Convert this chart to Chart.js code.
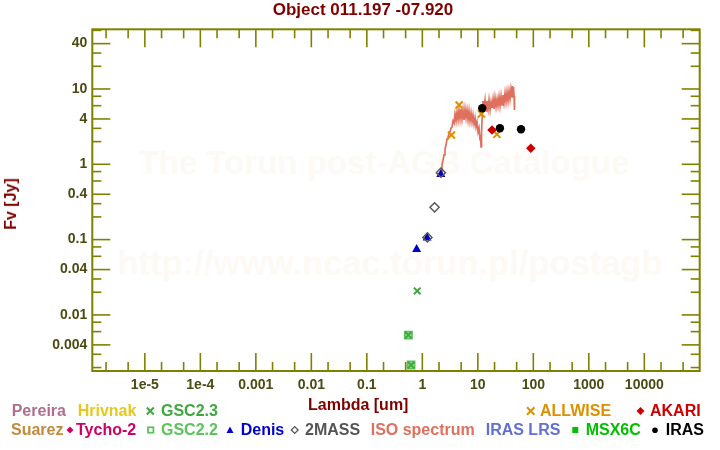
<!DOCTYPE html>
<html><head><meta charset="utf-8">
<script src="https://cdn.jsdelivr.net/npm/chart.js@4/dist/chart.umd.min.js"></script>
<style>
html,body{margin:0;padding:0;background:#fff;}
#wrap{position:relative;width:720px;height:450px;overflow:hidden;font-family:"Liberation Sans",Arial,sans-serif;font-weight:bold;}
.t{position:absolute;white-space:nowrap;font-size:16px;line-height:16px;}
.wm{position:absolute;white-space:nowrap;color:#fdfaf5;transform:translateX(-50%);line-height:40px;}
canvas{position:absolute;left:0;top:0;}
svg{position:absolute;left:0;top:0;}
</style></head><body>
<div id="wrap">
  <div class="wm" style="left:384px;top:142.6px;font-size:33px">The Torun post-AGB Catalogue</div>
  <div class="wm" style="left:390px;top:243px;font-size:34.5px">http://www.ncac.torun.pl/postagb</div>
  <canvas id="c" width="720" height="450"></canvas>
  <div class="t" style="left:363px;top:1.3px;font-size:17px;line-height:17px;color:#800000;transform:translateX(-50%)">Object 011.197 -07.920</div>
  <div class="t" style="left:10.5px;top:204px;color:#800000;transform:translate(-50%,-50%) rotate(-90deg)">Fv [Jy]</div>
  <div class="t" style="left:308px;top:396.5px;color:#800000">Lambda [um]</div>

  <div class="t" style="left:11.7px;top:403.2px;color:#b06d8d">Pereira</div>
  <div class="t" style="left:77.7px;top:403.2px;color:#e6c81e">Hrivnak</div>
  <div class="t" style="left:161px;top:403.2px;color:#3fa83f">GSC2.3</div>
  <div class="t" style="left:540px;top:403.2px;color:#dd9000">ALLWISE</div>
  <div class="t" style="left:650px;top:403.2px;color:#cc0000">AKARI</div>

  <div class="t" style="left:11px;top:422.2px;color:#c48a3c">Suarez</div>
  <div class="t" style="left:76px;top:422.2px;color:#cc0066">Tycho-2</div>
  <div class="t" style="left:161px;top:422.2px;color:#5cc45c">GSC2.2</div>
  <div class="t" style="left:240.7px;top:422.2px;color:#0000cc">Denis</div>
  <div class="t" style="left:305px;top:422.2px;color:#555555">2MASS</div>
  <div class="t" style="left:370.7px;top:422.2px;color:#e0705e">ISO spectrum</div>
  <div class="t" style="left:485.7px;top:422.2px;color:#6070d0">IRAS LRS</div>
  <div class="t" style="left:585.7px;top:422.2px;color:#00c000">MSX6C</div>
  <div class="t" style="left:665.7px;top:422.2px;color:#000000">IRAS</div>

  <svg width="720" height="450">
    <path d="M146.8 407.5 L153.8 414.5 M153.8 407.5 L146.8 414.5" stroke="#3fa83f" stroke-width="2"/>
    <path d="M527 407.3 L534.4 414.7 M534.4 407.3 L527 414.7" stroke="#dd9000" stroke-width="2"/>
    <polygon points="640.5,407 644.5,411 640.5,415 636.5,411" fill="#cc0000"/>
    <polygon points="70,426.5 73.5,430 70,433.5 66.5,430" fill="#cc0066"/>
    <rect x="148" y="427.3" width="5.4" height="5.4" fill="none" stroke="#5cc45c" stroke-width="1.8"/>
    <polygon points="230,426.5 233.5,433 226.5,433" fill="#0000cc"/>
    <polygon points="294.7,426.6 298.1,430 294.7,433.4 291.3,430" fill="none" stroke="#555555" stroke-width="1.3"/>
    <rect x="572.3" y="427" width="6" height="6" fill="#00c000"/>
    <circle cx="655" cy="430.2" r="2.8" fill="#000"/>
  </svg>
</div>
<script>
// ---------- data (wavelength in um, flux in Jy) ----------
const isoLambda = [2.17,2.26,2.36,2.46,2.56,2.67,2.79,2.90,3.03,3.16,3.29,3.43,3.57,3.72,3.88,4.05,4.22,4.40,4.58,4.78,4.98,5.19,5.41,5.64,5.88,6.13,6.39,6.66,6.94,7.23,7.54,7.86,8.19,8.54,8.90,9.28,9.67,10.08,10.5,10.96,11.19,11.42,11.67,11.9,12.4,12.9,13.5,14.1,14.6,15.3,15.9,16.6,17.3,18.0,18.8,19.6,20.4,21.3,22.2,23.1,24.1,25.1,26.2,27.3,28.4,29.6,30.9,32.2,33.6,35.0,36.5,38.0,39.6,41.3,42.2,43.1,44.0,44.9,45.8];
const isoFlux   = [0.81,0.98,1.14,1.33,1.60,1.80,2.17,2.24,2.60,2.69,3.03,3.13,3.76,3.54,4.66,3.76,4.95,3.88,5.26,4.00,5.43,4.00,5.26,3.88,5.43,4.12,5.26,3.88,5.10,3.76,4.80,3.65,4.52,3.43,4.12,3.13,3.65,2.69,3.03,2.10,2.45,1.70,2.60,3.88,6.93,5.26,7.14,5.10,6.93,5.43,7.14,5.26,6.72,5.59,7.36,5.43,7.59,5.77,7.36,5.95,7.83,5.95,8.07,6.13,8.32,6.52,8.85,6.72,9.12,6.93,9.41,7.36,10.0,7.83,10.96,8.32,10.63,8.07,5.26];

const gsc22Lambda = [0.56, 0.626];
const gsc22Flux   = [0.0054, 0.00216];
const gsc23Lambda = [0.56, 0.626, 0.81];
const gsc23Flux   = [0.0054, 0.00216, 0.0208];
const denisLambda = [0.79, 1.22, 2.15];
const denisFlux   = [0.0743, 0.105, 0.736];
const twomassLambda = [1.235, 1.662, 2.159];
const twomassFlux   = [0.107, 0.268, 0.774];
const allwiseLambda = [3.35, 4.6, 11.6, 22.1];
const allwiseFlux   = [2.45, 6.13, 4.66, 2.50];
const akariLambda = [18, 90];
const akariFlux   = [2.85, 1.63];
const irasLambda = [12, 25, 60];
const irasFlux   = [5.54, 3.01, 2.92];

// ---------- ticks ----------
const xMajorTicks = [1e-5,1e-4,1e-3,0.01,0.1,1,10,100,1000,10000];
const xTickLabels = ['1e-5','1e-4','0.001','0.01','0.1','1','10','100','1000','10000'];
const xMinorTicks = [2e-6,5e-6,2e-5,5e-5,2e-4,5e-4,0.002,0.005,0.02,0.05,0.2,0.5,2,5,20,50,200,500,2000,5000,20000,50000];
const yMajorTicks = [0.004,0.01,0.04,0.1,0.4,1,4,10,40];
const yTickLabels = ['0.004','0.01','0.04','0.1','0.4','1','4','10','40'];
const yMinorTicks = [0.002,0.003,0.006,0.008,0.02,0.03,0.06,0.08,0.2,0.3,0.6,0.8,2,3,6,8,20,30,60];

const pts = (xs, ys) => xs.map((x, i) => ({x: x, y: ys[i]}));
const axisColor = '#808000';
const tickFontColor = '#4b4b12';

function findLabel(v, vals, labels) {
  for (let i = 0; i < vals.length; i++) if (Math.abs(Math.log10(v) - Math.log10(vals[i])) < 1e-6) return labels[i];
  return '';
}

const framePlugin = {
  id: 'frame',
  beforeDatasetsDraw(chart) {
    const ctx = chart.ctx, a = chart.chartArea, xs = chart.scales.x, ys = chart.scales.y;
    ctx.save();
    ctx.strokeStyle = axisColor;
    ctx.lineWidth = 1.6;
    const ln = (x1, y1, x2, y2) => { ctx.beginPath(); ctx.moveTo(x1, y1); ctx.lineTo(x2, y2); ctx.stroke(); };
    xMajorTicks.forEach(v => { const p = xs.getPixelForValue(v); ln(p, a.bottom, p, a.bottom - 18); ln(p, a.top, p, a.top + 18); });
    xMinorTicks.forEach(v => { const p = xs.getPixelForValue(v); ln(p, a.bottom, p, a.bottom - 9); ln(p, a.top, p, a.top + 9); });
    yMajorTicks.forEach(v => { const p = ys.getPixelForValue(v); ln(a.left, p, a.left + 18, p); ln(a.right, p, a.right - 18, p); });
    yMinorTicks.forEach(v => { const p = ys.getPixelForValue(v); ln(a.left, p, a.left + 9, p); ln(a.right, p, a.right - 9, p); });
    ctx.lineWidth = 2;
    ctx.strokeRect(a.left, a.top, a.right - a.left, a.bottom - a.top);
    ctx.restore();
  }
};

Chart.defaults.font.family = "'Liberation Sans', Arial, sans-serif";

new Chart(document.getElementById('c'), {
  type: 'scatter',
  data: {
    datasets: [
      { label: 'IRAS', data: pts(irasLambda, irasFlux), pointStyle: 'circle', pointRadius: 4.2, backgroundColor: '#000', borderColor: '#000', borderWidth: 0 },
      { label: 'AKARI', data: pts(akariLambda, akariFlux), pointStyle: 'rectRot', pointRadius: 4.8, backgroundColor: '#cc0000', borderColor: '#cc0000', borderWidth: 0 },
      { label: 'ALLWISE', data: pts(allwiseLambda, allwiseFlux), pointStyle: 'crossRot', pointRadius: 5, borderColor: '#dd9000', borderWidth: 2 },
      { label: '2MASS', data: pts(twomassLambda, twomassFlux), pointStyle: 'rectRot', pointRadius: 4.6, backgroundColor: 'rgba(0,0,0,0)', borderColor: '#555555', borderWidth: 1.4 },
      { label: 'Denis', data: pts(denisLambda, denisFlux), pointStyle: 'triangle', pointRadius: 5.2, backgroundColor: '#0000cc', borderColor: '#0000cc', borderWidth: 0 },
      { label: 'GSC2.3', data: pts(gsc23Lambda, gsc23Flux), pointStyle: 'crossRot', pointRadius: 4.7, borderColor: '#3fa83f', borderWidth: 2 },
      { label: 'GSC2.2', data: pts(gsc22Lambda, gsc22Flux), pointStyle: 'rect', pointRadius: 5, backgroundColor: 'rgba(92,196,92,0.55)', borderColor: '#5cc45c', borderWidth: 1.8 },
      { label: 'ISO spectrum', data: pts(isoLambda, isoFlux), showLine: true, pointRadius: 0, borderColor: '#e0705e', borderWidth: 1.7, tension: 0, order: 10 }
    ]
  },
  options: {
    responsive: false,
    animation: false,
    events: [],
    layout: { padding: { top: 29.3, right: 20.3, left: 0, bottom: 0 } },
    plugins: { legend: { display: false }, tooltip: { enabled: false }, title: { display: false } },
    scales: {
      x: {
        type: 'logarithmic', position: 'bottom', min: 1.13e-6, max: 9.95e4, bounds: 'data',
        grid: { display: false, drawTicks: false }, border: { display: false },
        afterBuildTicks: s => { s.ticks = xMajorTicks.concat(xMinorTicks).sort((a, b) => a - b).map(v => ({ value: v })); },
        afterFit: s => { s.height = 79; },
        ticks: { autoSkip: false, maxRotation: 0, minRotation: 0, padding: 6, color: tickFontColor,
                 font: { size: 14, weight: 'bold' }, callback: v => findLabel(v, xMajorTicks, xTickLabels) }
      },
      y: {
        type: 'logarithmic', position: 'left', min: 0.0018, max: 62, bounds: 'data',
        grid: { display: false, drawTicks: false }, border: { display: false },
        afterBuildTicks: s => { s.ticks = yMajorTicks.concat(yMinorTicks).sort((a, b) => a - b).map(v => ({ value: v })); },
        afterFit: s => { s.width = 92.3; },
        ticks: { autoSkip: false, padding: 5, color: tickFontColor,
                 font: { size: 14, weight: 'bold' }, callback: v => findLabel(v, yMajorTicks, yTickLabels) }
      }
    }
  },
  plugins: [framePlugin]
});
</script>
</body></html>
